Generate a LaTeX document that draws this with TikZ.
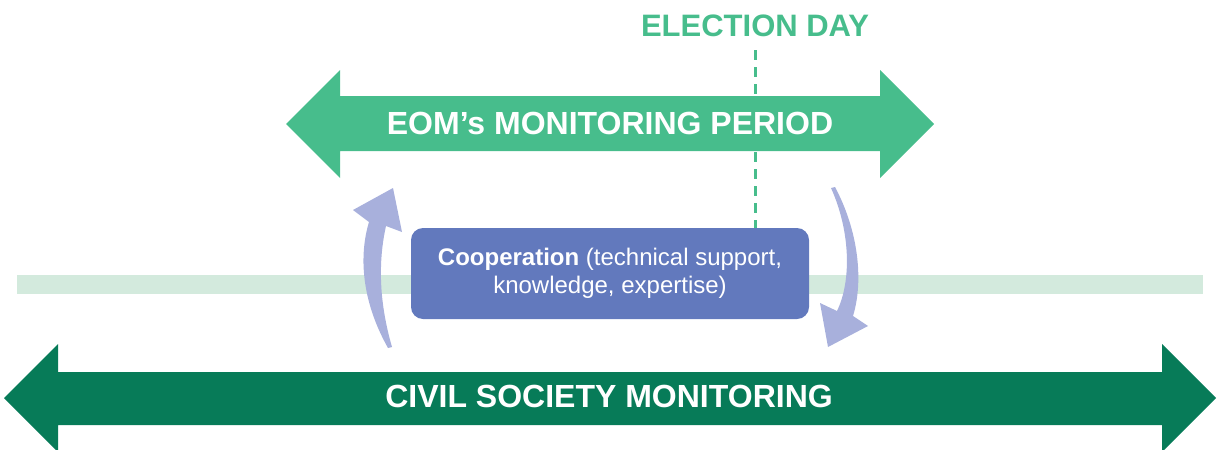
\documentclass[tikz,border=0pt]{standalone}
\usepackage{fontspec}
\setmainfont{Liberation Sans}
\usepackage{tikz}
\usetikzlibrary{calc, positioning}
\definecolor{eomgreen}{HTML}{47BD8C}
\definecolor{csogreen}{HTML}{077B58}
\definecolor{bandgreen}{HTML}{D3EADD}
\definecolor{coopblue}{HTML}{6279BD}
\definecolor{flowblue}{HTML}{A8B0DC}
\tikzset{
period/.style={text=white, font=\bfseries\fontsize{32}{36}\selectfont},
dayline/.style={eomgreen, line width=3pt, dash pattern=on 10pt off 7pt},
daylabel/.style={text=eomgreen, font=\bfseries\fontsize{31}{36}\selectfont},
coop/.style={fill=coopblue, rounded corners=12pt, text=white, align=center,
  minimum width=398pt, minimum height=91pt, inner sep=0pt,
  font=\fontsize{24}{28}\selectfont},
flow/.style={fill=flowblue}
}

\begin{document}
\begin{tikzpicture}[x=1pt, y=-1pt]
			\useasboundingbox (0,0) rectangle (1227,450);
			% ----
			\fill[bandgreen] (17,275) rectangle (1203,294);
			% ----
			\fill[csogreen]
			(4,398) -- (58,344) -- (58,372) -- (1162,372) -- (1162,344) --
			(1216,398) --
			(1162,452) -- (1162,425) -- (58,425) -- (58,452) -- cycle;
			\node[period] (cso) at (609,396) {CIVIL SOCIETY MONITORING};
			% ----
			\node[coop] (box) at (610,273.5)
			{\textbf{Cooperation} (technical support,\\knowledge, expertise)};
			\node[daylabel] (day) at (755,26) {ELECTION DAY};
			\coordinate (dtop) at (755,50);
			\draw[dayline] (dtop) -- (dtop |- box.north);
			% ----
			\fill[eomgreen]
			(286,124) -- (340,70) -- (340,96) -- (880,96) -- (880,70) --
			(934,124) --
			(880,178) -- (880,151) -- (340,151) -- (340,178) -- cycle;
			\node[period] (eom) at (610,123) {EOM’s MONITORING PERIOD};
			% ----
			\coordinate (up) at (393,188);
			\coordinate (down) at (828,347);
			\fill[flow]
			(388,348) .. controls (361,300) and (359,255) .. (369,222) --
			(353,210) -- (up) -- (402,232) -- (386,226) ..
			controls (378,262) and (379,302) .. (392,347) -- cycle;
			\fill[flow]
			(831,188) .. controls (850,230) and (852,280) .. (837,311) --
			(820,303) -- (down) -- (868,326) -- (853,316) ..
			controls (864,280) and (858,230) .. (835,187) -- cycle;
		\end{tikzpicture}
\end{document}
